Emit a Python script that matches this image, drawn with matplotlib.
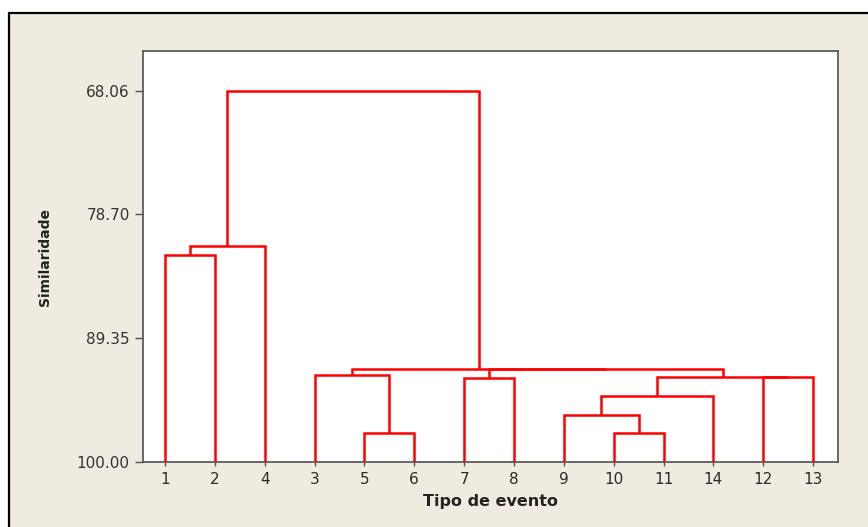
import matplotlib
matplotlib.use("Agg")
import matplotlib.pyplot as plt
from matplotlib.patches import Rectangle

# leaf order as drawn along the x axis
leaves = ["1", "2", "4", "3", "5", "6", "7", "8", "9", "10", "11", "14", "12", "13"]

# merges: (left node, right node, similarity); ints refer to earlier merges
merges = [
    ("1", "2", 82.18),
    (0, "4", 81.41),
    ("5", "6", 97.46),
    ("3", 2, 92.50),
    ("7", "8", 92.73),
    ("10", "11", 97.46),
    ("9", 5, 95.94),
    (6, "14", 94.28),
    ("12", "13", 92.65),
    (7, 8, 92.65),
    (4, 9, 92.00),
    (3, 10, 92.00),
    (1, 11, 68.06),
]

yticks = [68.06, 78.70, 89.35, 100.00]

fig = plt.figure(figsize=(8.68, 5.27), dpi=100)
fig.patch.set_facecolor("white")
W, H = 868, 527
bg = Rectangle((9 / W, -0.2), 1.3, (H - 13) / H + 0.2, transform=fig.transFigure,
               facecolor="#EFEBE1", edgecolor="black", linewidth=1.6, zorder=-10)
fig.patches.append(bg)

ax = fig.add_axes([143 / W, 1 - 462.3 / H, (838 - 143) / W, (462.3 - 51) / H])
ax.set_zorder(5)
ax.set_facecolor("white")

red = "#FF0000"
pos = {lab: i for i, lab in enumerate(leaves)}
node_x = []
node_y = []


def coords(n):
    if isinstance(n, str):
        return pos[n], 100.0
    return node_x[n], node_y[n]


for a, b, h in merges:
    xa, ya = coords(a)
    xb, yb = coords(b)
    ax.plot([xa, xa, xb, xb], [ya, h, h, yb], color=red, lw=1.8,
            solid_joinstyle="miter", solid_capstyle="butt", zorder=3)
    node_x.append((xa + xb) / 2)
    node_y.append(h)

ax.set_xlim(-0.44, 13.5)
ax.set_ylim(100, 64.65)
ax.set_xticks(range(len(leaves)))
ax.set_xticklabels(leaves)
ax.set_yticks(yticks)
ax.set_yticklabels([f"{v:.2f}" for v in yticks])

for s in ax.spines.values():
    s.set_color("#505050")
    s.set_linewidth(1.2)

ax.tick_params(axis="y", length=6, width=1, color="#505050", pad=3.5,
               labelsize=11, labelcolor="#333333")
ax.tick_params(axis="x", length=3, width=1, color="#505050", pad=4,
               labelsize=11, labelcolor="#2a2a2a")

ax.set_xlabel("Tipo de evento", fontsize=11.5, fontweight="bold", color="#222222", labelpad=5)
ax.set_ylabel("Similaridade", fontsize=10, fontweight="bold", color="#222222", labelpad=18)

fig.savefig("out.png", dpi=100, facecolor=fig.get_facecolor())
